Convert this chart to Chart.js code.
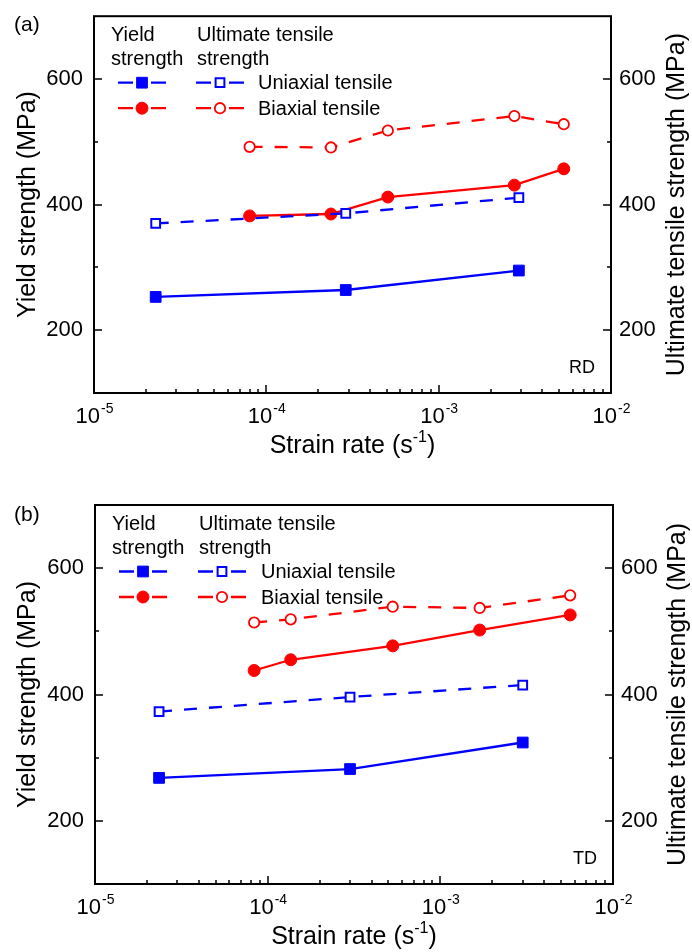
<!DOCTYPE html>
<html>
<head>
<meta charset="utf-8">
<script src="https://cdn.jsdelivr.net/npm/chart.js@4.4.1/dist/chart.umd.min.js"></script>
<style>
  html, body { margin: 0; padding: 0; background: #fff; }
  .panel { width: 692px; height: 476px; }
  canvas { display: block; }
</style>
</head>
<body>
<div class="panel"><canvas id="chartRD" width="692" height="476"></canvas></div>
<div class="panel"><canvas id="chartTD" width="692" height="476"></canvas></div>
<script>
// (a) RD
const rdUniRate = [2.28e-5, 2.89e-4, 2.92e-3];
const rdUniYield = [253, 264, 295];
const rdUniUts = [370, 386, 411];
const rdBiRate = [8.0e-5, 2.37e-4, 5.07e-4, 2.75e-3, 5.32e-3];
const rdBiYield = [382, 385, 412, 431, 457];
const rdBiUts = [492, 491, 518, 541, 528];

// (b) TD
const tdUniRate = [2.35e-5, 3.0e-4, 3.0e-3];
const tdUniYield = [268, 282, 324];
const tdUniUts = [373, 396, 415];
const tdBiRate = [8.35e-5, 1.36e-4, 5.3e-4, 1.69e-3, 5.65e-3];
const tdBiYield = [438, 455, 477, 502, 526];
const tdBiUts = [514, 519, 539, 537, 557];

const yLabelTicks = [200, 400, 600];
const xDecades = [-5, -4, -3, -2];
const legendRows = ["Uniaxial tensile", "Biaxial tensile"];

const BLUE = "#0000ff";
const RED = "#ff0000";
const FONT = "'Liberation Sans', Arial, sans-serif";

function pts(xs, ys) {
    return xs.map((x, i) => ({ x: x, y: ys[i] }));
}

function makeDatasets(uniRate, uniYield, uniUts, biRate, biYield, biUts) {
    const base = { showLine: true, borderWidth: 2.3 };
    return [
        { ...base, label: "Uniaxial yield", data: pts(uniRate, uniYield), borderColor: BLUE, backgroundColor: BLUE,
          pointStyle: "rect", pointRadius: 7.6, pointBorderWidth: 1 },
        { ...base, label: "Uniaxial UTS", data: pts(uniRate, uniUts), borderColor: BLUE, backgroundColor: "#ffffff",
          pointStyle: "rect", pointRadius: 6.2, pointBorderWidth: 2, borderDash: [13, 12] },
        { ...base, label: "Biaxial yield", data: pts(biRate, biYield), borderColor: RED, backgroundColor: RED,
          pointStyle: "circle", pointRadius: 6, pointBorderWidth: 1 },
        { ...base, label: "Biaxial UTS", data: pts(biRate, biUts), borderColor: RED, backgroundColor: "#ffffff",
          pointStyle: "circle", pointRadius: 5.2, pointBorderWidth: 1.8, borderDash: [13, 12] }
    ];
}

function drawMarker(ctx, ds, x, y) {
    ctx.save();
    ctx.setLineDash([]);
    ctx.lineWidth = ds.pointBorderWidth;
    ctx.strokeStyle = ds.borderColor;
    ctx.fillStyle = ds.backgroundColor;
    ctx.beginPath();
    if (ds.pointStyle === "rect") {
        const s = ds.pointRadius * Math.SQRT1_2;
        ctx.rect(x - s, y - s, 2 * s, 2 * s);
    } else {
        ctx.arc(x, y, ds.pointRadius, 0, Math.PI * 2);
    }
    ctx.fill();
    ctx.stroke();
    ctx.restore();
}

// frame, inward ticks, log labels, titles and the custom legend
const framePlugin = {
    id: "frame",
    afterDraw(chart, args, opt) {
        const ctx = chart.ctx;
        const a = chart.chartArea;
        const xs = chart.scales.x;
        const ys = chart.scales.y;
        ctx.save();

        ctx.strokeStyle = "#000";
        ctx.lineWidth = 2;
        ctx.strokeRect(a.left, a.top, a.right - a.left, a.bottom - a.top);

        ctx.lineWidth = 1.5;
        ctx.beginPath();
        ys.ticks.forEach(t => {
            if (t.value <= ys.min || t.value >= ys.max) return;
            const py = Math.round(ys.getPixelForValue(t.value));
            const len = yLabelTicks.includes(t.value) ? 8 : 4;
            ctx.moveTo(a.left, py); ctx.lineTo(a.left + len, py);
            ctx.moveTo(a.right, py); ctx.lineTo(a.right - len, py);
        });
        for (let d = xDecades[0]; d < xDecades[xDecades.length - 1]; d++) {
            for (let k = 1; k < 10; k++) {
                if (d === xDecades[0] && k === 1) continue;
                const px = Math.round(xs.getPixelForValue(k * Math.pow(10, d)));
                const len = k === 1 ? 8 : 4;
                ctx.moveTo(px, a.bottom); ctx.lineTo(px, a.bottom - len);
            }
        }
        ctx.stroke();

        ctx.fillStyle = "#000";
        ctx.textBaseline = "alphabetic";

        // x tick labels 10^n
        xDecades.forEach(d => {
            const px = xs.getPixelForValue(Math.pow(10, d));
            ctx.font = "22px " + FONT;
            const wBase = ctx.measureText("10").width;
            ctx.font = "14px " + FONT;
            const wExp = ctx.measureText(String(d)).width;
            const x0 = px - (wBase + wExp) / 2;
            ctx.textAlign = "left";
            ctx.font = "22px " + FONT;
            ctx.fillText("10", x0, a.bottom + 30);
            ctx.font = "14px " + FONT;
            ctx.fillText(String(d), x0 + wBase + 1, a.bottom + 20);
        });

        // x title
        const cx = (a.left + a.right) / 2;
        ctx.font = "25px " + FONT;
        const t1 = "Strain rate (s", t3 = ")";
        const w1 = ctx.measureText(t1).width, w3 = ctx.measureText(t3).width;
        ctx.font = "16px " + FONT;
        const w2 = ctx.measureText("-1").width;
        let tx = cx - (w1 + w2 + w3) / 2;
        ctx.font = "25px " + FONT;
        ctx.fillText(t1, tx, a.bottom + opt.titleDy);
        ctx.font = "16px " + FONT;
        ctx.fillText("-1", tx + w1, a.bottom + opt.titleDy - 11);
        ctx.font = "25px " + FONT;
        ctx.fillText(t3, tx + w1 + w2, a.bottom + opt.titleDy);

        // y titles, both read bottom to top
        const cy = (a.top + a.bottom) / 2;
        ctx.textAlign = "center";
        ctx.textBaseline = "middle";
        ctx.font = "25px " + FONT;
        ctx.save();
        ctx.translate(opt.leftTitleX, cy);
        ctx.rotate(-Math.PI / 2);
        ctx.fillText("Yield strength (MPa)", 0, 0);
        ctx.restore();
        ctx.save();
        ctx.translate(opt.rightTitleX, cy);
        ctx.rotate(-Math.PI / 2);
        ctx.fillText("Ultimate tensile strength (MPa)", 0, 0);
        ctx.restore();

        // panel label and direction tag
        ctx.textBaseline = "alphabetic";
        ctx.textAlign = "left";
        ctx.font = "21px " + FONT;
        ctx.fillText(opt.panel, 14, opt.panelY);
        ctx.textAlign = "right";
        ctx.font = "18px " + FONT;
        ctx.fillText(opt.tag, a.right - 16, a.bottom - 20);

        // legend
        const sets = chart.data.datasets;
        const lx = a.left;
        ctx.textAlign = "left";
        ctx.font = "20px " + FONT;
        ctx.fillText("Yield", lx + 17, a.top + 25);
        ctx.fillText("strength", lx + 17, a.top + 49);
        ctx.fillText("Ultimate tensile", lx + opt.utsX, a.top + 25);
        ctx.fillText("strength", lx + opt.utsX, a.top + 49);
        const rowsY = [a.top + 66.5, a.top + 92];
        legendRows.forEach((name, r) => {
            const yy = rowsY[r];
            [[sets[r * 2], lx + 48], [sets[r * 2 + 1], lx + opt.utsX + 23]].forEach(([ds, mx]) => {
                ctx.save();
                ctx.strokeStyle = ds.borderColor;
                ctx.lineWidth = 2.3;
                ctx.beginPath();
                ctx.moveTo(mx - 24, yy); ctx.lineTo(mx - 9, yy);
                ctx.moveTo(mx + 9, yy); ctx.lineTo(mx + 24, yy);
                ctx.stroke();
                ctx.restore();
                drawMarker(ctx, ds, mx, yy);
            });
            ctx.fillStyle = "#000";
            ctx.textBaseline = "middle";
            ctx.fillText(name, lx + opt.textX, yy + 1);
            ctx.textBaseline = "alphabetic";
        });

        ctx.restore();
    }
};

function makeChart(id, sets, opt) {
    const yTicks = (pad) => ({
        stepSize: 100,
        autoSkip: false,
        color: "#000",
        padding: pad,
        font: { family: FONT, size: 22 },
        callback: v => yLabelTicks.includes(v) ? String(v) : ""
    });
    return new Chart(document.getElementById(id), {
        type: "scatter",
        data: { datasets: sets },
        options: {
            responsive: false,
            animation: false,
            events: [],
            layout: { padding: { top: opt.top, left: 0, right: 0, bottom: 0 } },
            plugins: { legend: { display: false }, tooltip: { enabled: false }, frame: opt },
            scales: {
                x: {
                    type: "logarithmic", min: 1e-5, max: 1e-2,
                    grid: { display: false }, border: { display: false }, ticks: { display: false },
                    afterFit: s => { s.height = opt.bottom; }
                },
                y: {
                    position: "left", min: 100, max: 700,
                    grid: { display: false }, border: { display: false }, ticks: yTicks(3),
                    afterFit: s => { s.width = opt.left; }
                },
                y2: {
                    position: "right", min: 100, max: 700,
                    grid: { display: false }, border: { display: false }, ticks: yTicks(0),
                    afterFit: s => { s.width = opt.right; }
                }
            }
        },
        plugins: [framePlugin]
    });
}

makeChart("chartRD",
    makeDatasets(rdUniRate, rdUniYield, rdUniUts, rdBiRate, rdBiYield, rdBiUts),
    { top: 14, bottom: 83, left: 94, right: 81, panel: "(a)", panelY: 31, tag: "RD",
      titleDy: 60, leftTitleX: 28, rightTitleX: 677, utsX: 103, textX: 164 });

makeChart("chartTD",
    makeDatasets(tdUniRate, tdUniYield, tdUniUts, tdBiRate, tdBiYield, tdBiUts),
    { top: 29, bottom: 68, left: 95, right: 79, panel: "(b)", panelY: 45, tag: "TD",
      titleDy: 60, leftTitleX: 28, rightTitleX: 678, utsX: 104, textX: 166 });
</script>
</body>
</html>
